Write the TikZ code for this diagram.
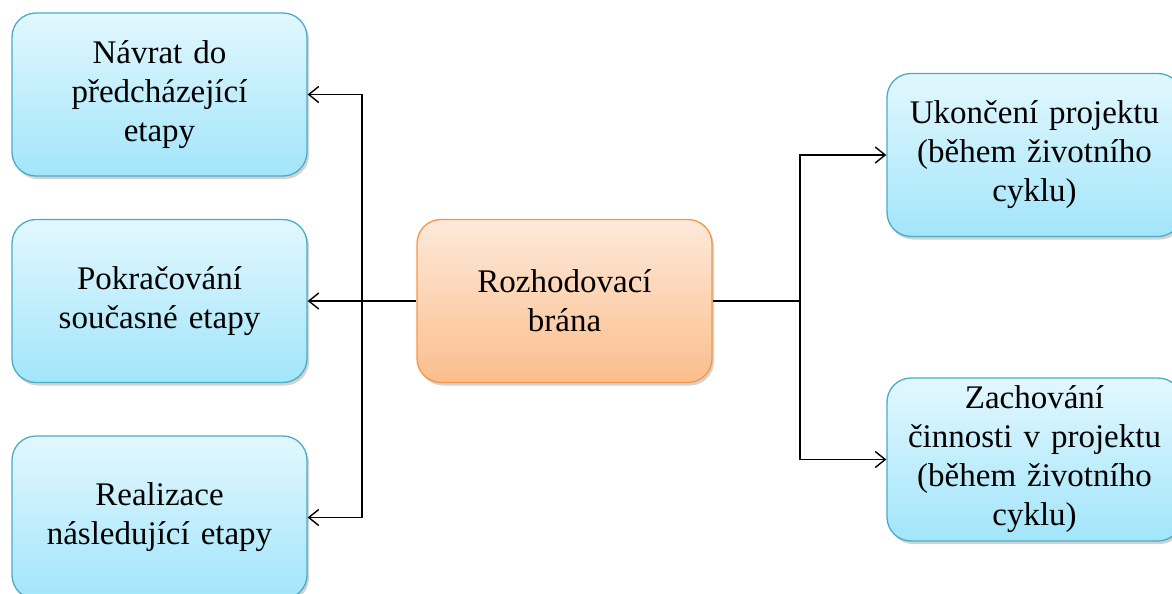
\documentclass[tikz,border=0pt]{standalone}
\usepackage{fontspec}
\setmainfont{Liberation Serif}
\usepackage{tikz}
\usetikzlibrary{
  positioning,
  arrows.meta,
  shadows
}
\definecolor{stageline}{HTML}{4BACC6}
\definecolor{stagetop}{HTML}{E2F7FE}
\definecolor{stagebot}{HTML}{A2E5FA}
\definecolor{gateline}{HTML}{F79646}
\definecolor{gatetop}{HTML}{FDE9DA}
\definecolor{gatebot}{HTML}{FBBE8C}
\tikzset{
  >={Straight Barb[length=10pt,width=16pt]},
  box/.style={rounded corners=24pt, line width=1.3pt,
    minimum width=295pt, minimum height=163pt, text width=285pt,
    align=center, font=\fontsize{33}{39}\selectfont,
    drop shadow={shadow xshift=2pt, shadow yshift=-3pt, opacity=0.35}},
  stage/.style={box, draw=stageline, top color=stagetop, bottom color=stagebot},
  gate/.style={box, draw=gateline, top color=gatetop, bottom color=gatebot},
  link/.style={line width=1.4pt}
}

\begin{document}
\begin{tikzpicture}[x=1pt, y=-1pt]
    \useasboundingbox (0,0) rectangle (1172,594);
    \node[stage] (back) at (159.5,94.5) {Návrat do\\předcházející\\etapy};
    \node[stage] (cont) at (159.5,301) {Pokračování\\současné etapy};
    \node[stage] (next) at (159.5,517.5) {Realizace\\následující etapy};
    \node[gate] (gate) at (564.5,301) {Rozhodovací\\brána};
    \node[stage] (stop) at (1034.5,155) {Ukončení projektu\\(během životního\\cyklu)};
    \node[stage] (keep) at (1034.5,459.5) {Zachování\\činnosti v projektu\\(během životního\\cyklu)};
    \coordinate (lsplit) at (362,301);
    \coordinate (rsplit) at (800,301);
    \draw[link, ->] (gate.west) -- (cont.east);
    \draw[link, ->] (lsplit) |- (back.east);
    \draw[link, ->] (lsplit) |- (next.east);
    \draw[link] (gate.east) -- (rsplit);
    \draw[link, ->] (rsplit) |- (stop.west);
    \draw[link, ->] (rsplit) |- (keep.west);
\end{tikzpicture}
\end{document}
